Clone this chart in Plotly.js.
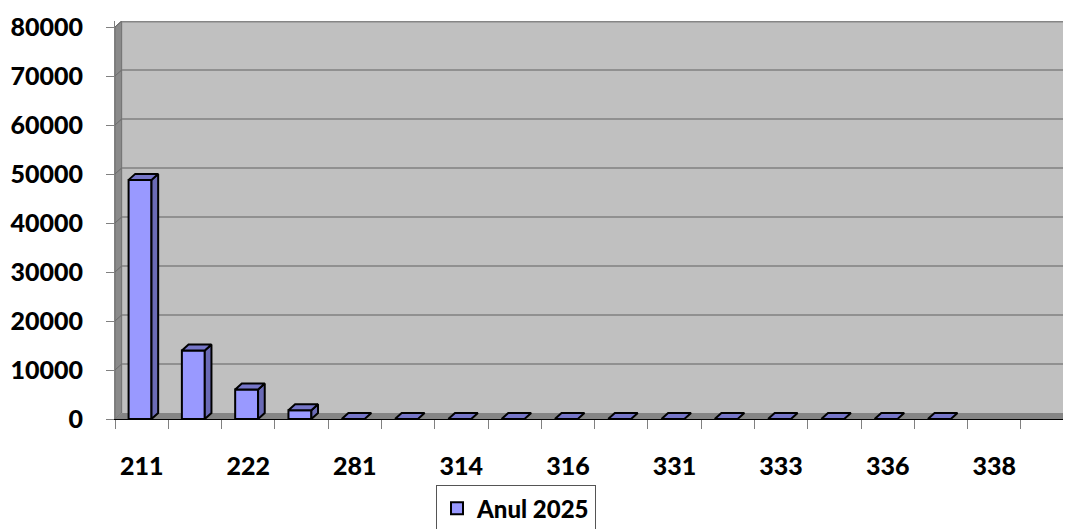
<!DOCTYPE html>
<html>
<head>
<meta charset="utf-8">
<script src="https://cdn.plot.ly/plotly-3.0.1.min.js"></script>
<style>html,body{margin:0;padding:0;background:#fff;}#chart{width:1065px;height:529px;}</style>
</head>
<body>
<div id="chart"></div>
<script>
// ---- data ----
const categories = ['211','212','222','231','281','301','314','315','316','321','331','332','333','335','336','337','338'];
const values = [48800, 14000, 6000, 1800, 0, 0, 0, 0, 0, 0, 0, 0, 0, 0, 0, 0, null];
const seriesName = 'Anul 2025';
const yTicks = [0, 10000, 20000, 30000, 40000, 50000, 60000, 70000, 80000];

// ---- geometry helpers (pseudo 3D depth) ----
const Y_MAX = 81224;      // axis max incl. depth
const DY = Y_MAX - 80000; // depth in y units
const DX = 0.125;         // depth in category units
const X_MIN = -0.5, X_MAX = 17.29;
const W = 0.43;

const idx = categories.map((c, i) => i);
const sideX = [], sideY = [], topX = [], topY = [];
values.forEach((v, i) => {
  if (v === null) return;
  const l = i - W / 2 - 0.03, r = i + W / 2 - 0.03;
  if (v > 0) {
    sideX.push(r, r + DX, r + DX, r, r, null);
    sideY.push(0, DY, v + DY, v, 0, null);
  }
  topX.push(l, l + DX, r + DX, r, l, null);
  topY.push(v, v + DY, v + DY, v, v, null);
});

const traces = [
  {type: 'bar', x: idx.map(i => i - 0.03), y: values, width: W, name: seriesName,
   marker: {color: '#9999ff', line: {color: '#000', width: 2}}, xaxis: 'x', yaxis: 'y'},
  {type: 'scatter', mode: 'lines', x: sideX, y: sideY, fill: 'toself', fillcolor: '#6a6ab5',
   line: {color: '#000', width: 2}, showlegend: false, hoverinfo: 'skip'},
  {type: 'scatter', mode: 'lines', x: topX, y: topY, fill: 'toself', fillcolor: '#7676c8',
   line: {color: '#000', width: 2}, showlegend: false, hoverinfo: 'skip'},
  {type: 'scatter', mode: 'markers', x: [0], y: [0], xaxis: 'x2', yaxis: 'y',
   marker: {opacity: 0}, showlegend: false, hoverinfo: 'skip'}
];

const shapes = [];
shapes.push({type: 'rect', xref: 'x', yref: 'y', x0: X_MIN + DX, x1: X_MAX + 1, y0: DY, y1: Y_MAX,
  fillcolor: '#c0c0c0', line: {width: 0}, layer: 'below'});
shapes.push({type: 'path', xref: 'x', yref: 'y', layer: 'below',
  path: `M ${X_MIN} 0 L ${X_MIN} 80000 L ${X_MIN + DX} ${Y_MAX} L ${X_MIN + DX} ${DY} Z`,
  fillcolor: '#8a8a8a', line: {color: '#6e6e6e', width: 1}});
shapes.push({type: 'path', xref: 'x', yref: 'y', layer: 'below',
  path: `M ${X_MIN} 0 L ${X_MAX + 1} 0 L ${X_MAX + 1} ${DY} L ${X_MIN + DX} ${DY} Z`,
  fillcolor: '#858585', line: {width: 0}});
yTicks.forEach(v => {
  if (v === 0) return;
  shapes.push({type: 'line', xref: 'x', yref: 'y', layer: 'below',
    x0: X_MIN + DX, x1: X_MAX + 1, y0: v + DY, y1: v + DY,
    line: {color: v === 80000 ? '#858585' : '#808080', width: v === 80000 ? 3 : 1.5}});
  shapes.push({type: 'line', xref: 'x', yref: 'y', layer: 'below',
    x0: X_MIN, x1: X_MIN + DX, y0: v, y1: v + DY, line: {color: '#6a6a6a', width: 1}});
});

const bTicks = [];
for (let i = 0; i <= categories.length; i++) bTicks.push(i - 0.5);
const lTicks = idx.filter(i => i % 2 === 0);

const font = {family: 'Lato, "Open Sans", sans-serif', size: 25, color: '#000', weight: 900};

const layout = {
  width: 1065, height: 529,
  margin: {l: 115, r: 2, t: 21, b: 110, autoexpand: false},
  paper_bgcolor: '#fff', plot_bgcolor: '#fff',
  showlegend: true,
  legend: {x: 0.423, y: -0.166, xanchor: 'center', yanchor: 'top', bordercolor: '#555', borderwidth: 1,
    font: {family: font.family, size: 24, color: '#000', weight: 900}, bgcolor: '#fff'},
  xaxis: {range: [X_MIN, X_MAX], tickmode: 'array', tickvals: bTicks, showticklabels: false,
    ticks: 'outside', ticklen: 9, tickcolor: '#808080', tickwidth: 1, automargin: false,
    showline: true, linecolor: '#000', linewidth: 1, showgrid: false, zeroline: false, fixedrange: true},
  xaxis2: {overlaying: 'x', anchor: 'y', side: 'bottom', range: [X_MIN, X_MAX], tickmode: 'array',
    tickvals: lTicks, ticktext: lTicks.map(i => categories[i]), ticks: 'outside', ticklen: 25,
    tickcolor: 'rgba(0,0,0,0)', showline: false, showgrid: false, zeroline: false, tickfont: font, automargin: false},
  yaxis: {range: [0, Y_MAX], tickmode: 'array', tickvals: yTicks, ticktext: yTicks.map(String),
    ticks: 'outside', ticklen: 8, tickcolor: '#808080', showline: true, linecolor: '#808080', automargin: false,
    showgrid: false, zeroline: false, tickfont: font, ticklabelstandoff: 18},
  shapes: shapes,
  bargap: 0
};

Plotly.newPlot('chart', traces, layout, {staticPlot: true, displayModeBar: false});
</script>
</body>
</html>
